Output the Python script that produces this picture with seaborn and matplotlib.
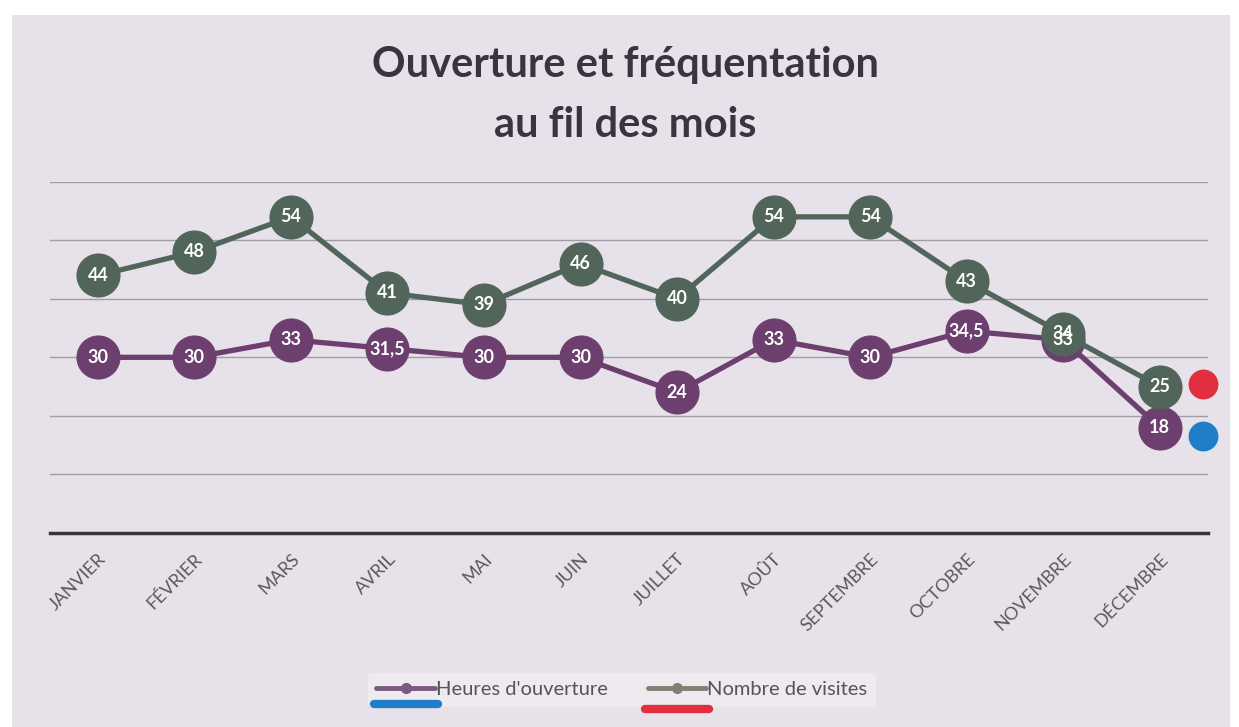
"""Ouverture et fréquentation au fil des mois: line chart with labelled markers."""

import matplotlib

matplotlib.use("Agg")

import matplotlib.pyplot as plt
import numpy as np
import pandas as pd
import seaborn as sns
from matplotlib.lines import Line2D
from matplotlib.patches import Rectangle


MONTHS = [
    "JANVIER", "FÉVRIER", "MARS", "AVRIL", "MAI", "JUIN",
    "JUILLET", "AOÛT", "SEPTEMBRE", "OCTOBRE", "NOVEMBRE", "DÉCEMBRE",
]
HEURES = [30, 30, 33, 31.5, 30, 30, 24, 33, 30, 34.5, 33, 18]
VISITES = [44, 48, 54, 41, 39, 46, 40, 54, 54, 43, 34, 25]
SERIES = ["Heures d'ouverture", "Nombre de visites"]

COLORS = {SERIES[0]: "#6C3F6F", SERIES[1]: "#51655A"}
LEGEND_COLORS = {SERIES[0]: "#7A5A80", SERIES[1]: "#7E8272"}
PEN = {SERIES[0]: "#1E7FC8", SERIES[1]: "#E0303F"}


def fmt(value: float) -> str:
    """French decimal comma, no trailing .0."""
    if float(value).is_integer():
        return str(int(value))
    return f"{value:.1f}".replace(".", ",")


def main() -> None:
    sns.set_theme(style="white")
    plt.rcParams["font.family"] = ["Lato", "DejaVu Sans"]

    pos = np.arange(len(MONTHS))
    data = pd.concat(
        [
            pd.DataFrame({"pos": pos, "value": HEURES, "serie": SERIES[0]}),
            pd.DataFrame({"pos": pos, "value": VISITES, "serie": SERIES[1]}),
        ],
        ignore_index=True,
    )

    fig = plt.figure(figsize=(12.39, 7.27), dpi=100, facecolor="white")
    fig.add_artist(Rectangle((0.0097, 0.0), 0.983, 0.979, transform=fig.transFigure,
                             facecolor="#E7E1E9", edgecolor="none", zorder=-10))
    ax = fig.add_axes([0.040, 0.267, 0.935, 0.483])
    ax.set_facecolor("none")

    for serie in SERIES:
        sub = data[data["serie"] == serie]
        sns.lineplot(data=sub, x="pos", y="value", ax=ax, color=COLORS[serie],
                     linewidth=3.8, marker="o", markersize=31,
                     markeredgecolor=COLORS[serie], sort=False, legend=False, zorder=3)
        for x, y in zip(sub["pos"], sub["value"]):
            ax.text(x, y, fmt(y), ha="center", va="center", color="white",
                    fontsize=13, fontweight="bold", zorder=5)

    # hand-drawn colour dots next to December
    ax.scatter([pos[-1] + 0.45], [VISITES[-1] + 0.5], s=420, color=PEN[SERIES[1]],
               zorder=4, clip_on=False)
    ax.scatter([pos[-1] + 0.45], [HEURES[-1] - 1.5], s=420, color=PEN[SERIES[0]],
               zorder=4, clip_on=False)

    ax.set_xlim(-0.5, len(MONTHS) - 0.5)
    ax.set_ylim(0, 60)
    ax.set_yticks(np.arange(0, 61, 10))
    ax.yaxis.grid(True, color="#A09CA3", linewidth=1)
    ax.set_yticklabels([])
    ax.tick_params(axis="y", length=0)
    ax.set_xticks(pos)
    ax.set_xticklabels(MONTHS, rotation=45, ha="right", rotation_mode="anchor",
                       fontsize=13, color="#5A5A5A")
    ax.tick_params(axis="x", length=0, pad=13)
    ax.set_xlabel("")
    ax.set_ylabel("")
    for side in ["left", "right", "top"]:
        ax.spines[side].set_visible(False)
    ax.spines["bottom"].set_color("#3A3238")
    ax.spines["bottom"].set_linewidth(2.5)
    ax.spines["bottom"].set_zorder(2)

    fig.text(0.505, 0.911, "Ouverture et fréquentation", ha="center", va="center",
             fontsize=30, fontweight="bold", color="#3D3340")
    fig.text(0.505, 0.828, "au fil des mois", ha="center", va="center",
             fontsize=30, fontweight="bold", color="#3D3340")

    handles = [
        Line2D([], [], color=LEGEND_COLORS[s], linewidth=3.5, marker="o", markersize=7)
        for s in SERIES
    ]
    leg = fig.legend(handles, SERIES, loc="center", bbox_to_anchor=(0.502, 0.051),
                     ncol=2, fontsize=14.5, frameon=True, facecolor="white",
                     framealpha=0.3, edgecolor="none", handlelength=2.9,
                     handletextpad=0.05, columnspacing=2.0, labelcolor="#555555")

    # hand-drawn underlines under the legend keys
    fig.canvas.draw()
    renderer = fig.canvas.get_renderer()
    inv = fig.transFigure.inverted()
    for serie, handle, drop in zip(SERIES, leg.legend_handles, (16, 21)):
        bb = handle.get_window_extent(renderer)
        y_mid = (bb.y0 + bb.y1) / 2 - drop
        (x0, y0), (x1, _) = inv.transform([(bb.x0 + 2, y_mid), (bb.x1 - 2, y_mid)])
        fig.add_artist(Line2D([x0, x1], [y0, y0], transform=fig.transFigure,
                              color=PEN[serie], linewidth=6, solid_capstyle="round",
                              zorder=10))

    fig.savefig("out.png", dpi=100, facecolor=fig.get_facecolor())
    plt.close(fig)


if __name__ == "__main__":
    main()
